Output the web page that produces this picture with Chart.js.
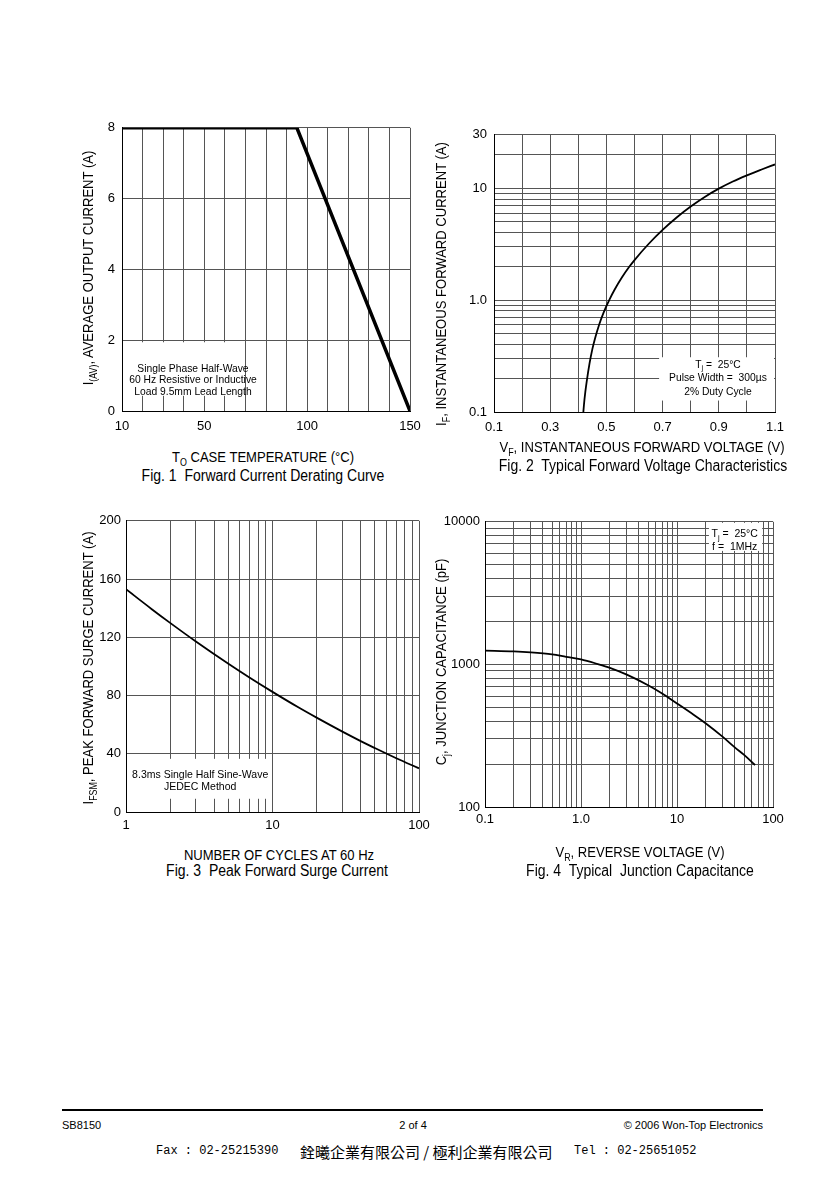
<!DOCTYPE html>
<html>
<head>
<meta charset="utf-8">
<script src="https://cdn.jsdelivr.net/npm/chart.js@4.4.1/dist/chart.umd.min.js"></script>
<style>
html,body{margin:0;padding:0;background:#fff;}
body{width:840px;height:1189px;position:relative;overflow:hidden;font-family:'Liberation Sans',Arial,sans-serif;color:#000;}
canvas{position:absolute;}
.t{position:absolute;white-space:nowrap;transform:translate(-50%,-50%) scaleX(0.87);font-size:15px;line-height:1;}
.ty{position:absolute;white-space:nowrap;transform:translate(-50%,-50%) rotate(-90deg) scaleX(0.87);font-size:15px;line-height:1;}
.cap{position:absolute;white-space:nowrap;transform:translate(-50%,-50%) scaleX(0.875);font-size:16px;line-height:1;}
.s{font-size:0.68em;position:relative;top:0.38em;}
.ft{position:absolute;font-size:11px;line-height:1;white-space:nowrap;transform:translateY(-50%);}
.fx{position:absolute;line-height:1;white-space:pre;transform:translateY(-50%);}
.mono{font-family:'Liberation Mono','DejaVu Sans Mono',monospace;font-size:12px;}
.cjk{font-family:'Noto Sans CJK TC','Noto Sans CJK SC',sans-serif;font-size:15px;}
</style>
</head>
<body>
<canvas id="c1"></canvas>
<canvas id="c2"></canvas>
<canvas id="c3"></canvas>
<canvas id="c4"></canvas>

<!-- axis titles and captions -->
<div class="ty" style="left:88px;top:268px;">I<span class="s">(AV)</span>, AVERAGE OUTPUT CURRENT (A)</div>
<div class="t" style="left:263px;top:457px;">T<span class="s">O</span> CASE TEMPERATURE (°C)</div>
<div class="cap" style="left:263px;top:476px;">Fig. 1&nbsp; Forward Current Derating Curve</div>

<div class="ty" style="left:441px;top:284px;">I<span class="s">F</span>, INSTANTANEOUS FORWARD CURRENT (A)</div>
<div class="t" style="left:642px;top:447px;">V<span class="s">F</span>, INSTANTANEOUS FORWARD VOLTAGE (V)</div>
<div class="cap" style="left:643px;top:466px;">Fig. 2&nbsp; Typical Forward Voltage Characteristics</div>

<div class="ty" style="left:88px;top:668px;">I<span class="s">FSM</span>, PEAK FORWARD SURGE CURRENT (A)</div>
<div class="t" style="left:279px;top:854px;">NUMBER OF CYCLES AT 60 Hz</div>
<div class="cap" style="left:277px;top:871px;">Fig. 3&nbsp; Peak Forward Surge Current</div>

<div class="ty" style="left:441px;top:662px;">C<span class="s">j</span>, JUNCTION CAPACITANCE (pF)</div>
<div class="t" style="left:640px;top:852px;">V<span class="s">R</span>, REVERSE VOLTAGE (V)</div>
<div class="cap" style="left:640px;top:871px;">Fig. 4&nbsp; Typical&nbsp; Junction Capacitance</div>

<!-- footer -->
<div style="position:absolute;left:62px;top:1109px;width:701px;height:2px;background:#000;"></div>
<div class="ft" style="left:62px;top:1125px;">SB8150</div>
<div class="ft" style="left:413px;top:1125px;transform:translate(-50%,-50%);">2 of 4</div>
<div class="ft" style="right:77px;top:1125px;">© 2006 Won-Top Electronics</div>
<div class="fx mono" style="left:156px;top:1151px;">Fax : 02-25215390</div>
<div class="fx cjk" style="left:300px;top:1151px;">銓曦企業有限公司 / 極利企業有限公司</div>
<div class="fx mono" style="left:574px;top:1151px;">Tel : 02-25651052</div>

<script>
// ================= DATA =================
// Fig. 1  Forward Current Derating Curve
const fig1Temp    = [10, 95, 150];
const fig1Current = [8, 8, 0];
const fig1XTicks  = [10, 20, 30, 40, 50, 60, 70, 80, 90, 100, 110, 120, 130, 140, 150];
const fig1XLabelValues = [10, 50, 100, 150];
const fig1XLabelText   = ['10', '50', '100', '150'];
const fig1YTicks  = [0, 2, 4, 6, 8];
const fig1YLabelValues = [0, 2, 4, 6, 8];
const fig1YLabelText   = ['0', '2', '4', '6', '8'];
const fig1Note = ['Single Phase Half-Wave', '60 Hz Resistive or Inductive', 'Load 9.5mm Lead Length'];

// Fig. 2  Typical Forward Voltage Characteristics
const fig2Voltage = [0.418, 0.42, 0.425, 0.43, 0.44, 0.45, 0.46, 0.475, 0.49, 0.51, 0.53, 0.555, 0.58, 0.6, 0.65, 0.7, 0.75, 0.8, 0.85, 0.9, 0.95, 1.0, 1.05, 1.1];
const fig2Current = [0.1, 0.115, 0.151, 0.188, 0.272, 0.365, 0.459, 0.612, 0.774, 1.0, 1.249, 1.591, 1.963, 2.279, 3.171, 4.24, 5.474, 6.861, 8.36, 9.915, 11.48, 13.02, 14.61, 16.31];
const fig2XTicks  = [0.1, 0.2, 0.3, 0.4, 0.5, 0.6, 0.7, 0.8, 0.9, 1.0, 1.1];
const fig2XLabelValues = [0.1, 0.3, 0.5, 0.7, 0.9, 1.1];
const fig2XLabelText   = ['0.1', '0.3', '0.5', '0.7', '0.9', '1.1'];
const fig2YTicks  = [0.1, 0.2, 0.3, 0.4, 0.5, 0.6, 0.7, 0.8, 0.9, 1, 2, 3, 4, 5, 6, 7, 8, 9, 10, 20, 30];
const fig2YLabelValues = [0.1, 1, 10, 30];
const fig2YLabelText   = ['0.1', '1.0', '10', '30'];
const fig2Note = ['T_{j} =  25°C', 'Pulse Width =  300µs', '2% Duty Cycle'];

// Fig. 3  Peak Forward Surge Current
const fig3Cycles  = [1, 1.5, 2, 3, 5, 7, 10, 15, 20, 30, 40, 50, 70, 100];
const fig3Current = [153, 139.3, 129.9, 117.1, 101.8, 92.2, 82.5, 71.9, 64.8, 55.2, 48.7, 43.9, 36.9, 30];
const fig3XTicks  = [1, 2, 3, 4, 5, 6, 7, 8, 9, 10, 20, 30, 40, 50, 60, 70, 80, 90, 100];
const fig3XLabelValues = [1, 10, 100];
const fig3XLabelText   = ['1', '10', '100'];
const fig3YTicks  = [0, 40, 80, 120, 160, 200];
const fig3YLabelValues = [0, 40, 80, 120, 160, 200];
const fig3YLabelText   = ['0', '40', '80', '120', '160', '200'];
const fig3Note = ['8.3ms Single Half Sine-Wave', 'JEDEC Method'];

// Fig. 4  Typical Junction Capacitance
const fig4Voltage = [0.1, 0.2, 0.3, 0.5, 0.7, 1, 1.5, 2, 3, 5, 7, 10, 15, 20, 30, 40, 50, 65];
const fig4Cap     = [1250, 1235, 1215, 1175, 1130, 1085, 1005, 945, 847, 714, 625, 532, 442, 385, 310, 262, 232, 197];
const fig4XTicks  = [0.1, 0.2, 0.3, 0.4, 0.5, 0.6, 0.7, 0.8, 0.9, 1, 2, 3, 4, 5, 6, 7, 8, 9, 10, 20, 30, 40, 50, 60, 70, 80, 90, 100];
const fig4XLabelValues = [0.1, 1, 10, 100];
const fig4XLabelText   = ['0.1', '1.0', '10', '100'];
const fig4YTicks  = [100, 200, 300, 400, 500, 600, 700, 800, 900, 1000, 2000, 3000, 4000, 5000, 6000, 7000, 8000, 9000, 10000];
const fig4YLabelValues = [100, 1000, 10000];
const fig4YLabelText   = ['100', '1000', '10000'];
const fig4Note = ['T_{j} =  25°C', 'f =  1MHz'];

// ================= RENDERING =================
const FONT = "'Liberation Sans', Arial, sans-serif";
Chart.defaults.font.family = FONT;
Chart.defaults.font.size = 13;
Chart.defaults.color = '#000';

const GRID = '#555';

function labelFor(values, texts) {
  return function (v) {
    for (let i = 0; i < values.length; i++) {
      if (Math.abs(v - values[i]) <= Math.abs(values[i]) * 1e-6 + 1e-9) return texts[i];
    }
    return '';
  };
}

function parseLine(s) {
  const parts = [];
  const re = /_\{([^}]*)\}/g;
  let last = 0, m;
  while ((m = re.exec(s))) {
    if (m.index > last) parts.push({ t: s.slice(last, m.index), sub: false });
    parts.push({ t: m[1], sub: true });
    last = re.lastIndex;
  }
  if (last < s.length) parts.push({ t: s.slice(last), sub: false });
  return parts;
}

function notePlugin(n) {
  return {
    id: 'noteBox',
    beforeDatasetsDraw(chart) {
      const ctx = chart.ctx, xs = chart.scales.x, ys = chart.scales.y;
      const px0 = xs.getPixelForValue(n.box[0]), px1 = xs.getPixelForValue(n.box[1]);
      const py0 = ys.getPixelForValue(n.box[2]), py1 = ys.getPixelForValue(n.box[3]);
      const l = Math.min(px0, px1) + 1, r = Math.max(px0, px1) - 1;
      const t = Math.min(py0, py1) + 1, b = Math.max(py0, py1) - 1;
      ctx.save();
      ctx.fillStyle = '#fff';
      ctx.fillRect(l, t, r - l, b - t);
      ctx.fillStyle = '#000';
      ctx.textBaseline = 'middle';
      ctx.textAlign = 'left';
      const cx = xs.getPixelForValue(n.textX);
      let cy = ys.getPixelForValue(n.textY);
      const main = n.size + 'px ' + FONT, sub = (n.size * 0.7) + 'px ' + FONT;
      n.lines.forEach(line => {
        const parts = parseLine(line);
        let w = 0;
        parts.forEach(p => { ctx.font = p.sub ? sub : main; p.w = ctx.measureText(p.t).width; w += p.w; });
        let x = cx - w / 2;
        parts.forEach(p => {
          ctx.font = p.sub ? sub : main;
          ctx.fillText(p.t, x, cy + (p.sub ? n.size * 0.35 : 0));
          x += p.w;
        });
        cy += n.lineHeight;
      });
      ctx.restore();
    }
  };
}

function axis(type, min, max, ticks, lv, lt, isX, pad) {
  return {
    type: type, min: min, max: max,
    afterBuildTicks: s => { s.ticks = ticks.map(v => ({ value: v })); },
    afterFit: s => { if (isX) s.height = 30; else s.width = 50; },
    ticks: { autoSkip: false, maxRotation: 0, minRotation: 0, padding: pad, callback: labelFor(lv, lt), font: { size: 13 } },
    grid: { color: GRID, lineWidth: 1, drawTicks: false },
    border: { color: '#000', width: 1 }
  };
}

function makeChart(id, box, xs, ys, xVals, yVals, line, note) {
  const yW = 50, xH = 30, padT = 12, padR = 30;
  const left = box.L - yW, top = box.T - padT;
  const W = box.R - left + padR, H = box.B - top + xH;
  const c = document.getElementById(id);
  c.style.left = left + 'px'; c.style.top = top + 'px';
  c.width = W; c.height = H;
  c.style.width = W + 'px'; c.style.height = H + 'px';
  return new Chart(c, {
    type: 'line',
    data: {
      datasets: [{
        data: xVals.map((v, i) => ({ x: v, y: yVals[i] })),
        borderColor: '#000',
        borderWidth: line.width,
        pointRadius: 0,
        fill: false,
        tension: line.smooth ? 0.4 : 0,
        cubicInterpolationMode: line.smooth ? 'monotone' : 'default'
      }]
    },
    options: {
      responsive: false,
      animation: false,
      events: [],
      layout: { padding: { top: padT, right: padR, left: 0, bottom: 0 } },
      plugins: { legend: { display: false }, tooltip: { enabled: false }, title: { display: false } },
      scales: { x: xs, y: ys }
    },
    plugins: [notePlugin(note)]
  });
}

// Fig. 1
makeChart('c1', { L: 122, R: 410, T: 125, B: 411 },
  axis('linear', 10, 150, fig1XTicks, fig1XLabelValues, fig1XLabelText, true, 8),
  axis('linear', 0, 8, fig1YTicks, fig1YLabelValues, fig1YLabelText, false, 7),
  fig1Temp, fig1Current, { width: 3.5, smooth: false },
  { box: [10, 69.5, 0.4, 1.97], textX: 44.5, textY: 1.19, lineHeight: 11.7, size: 10.3, lines: fig1Note });

// Fig. 2
makeChart('c2', { L: 494, R: 775, T: 132, B: 412 },
  axis('linear', 0.1, 1.1, fig2XTicks, fig2XLabelValues, fig2XLabelText, true, 8),
  axis('logarithmic', 0.1, 30, fig2YTicks, fig2YLabelValues, fig2YLabelText, false, 7),
  fig2Voltage, fig2Current, { width: 1.8, smooth: true },
  { box: [0.684, 1.1, 0.124, 0.315], textX: 0.897, textY: 0.264, lineHeight: 13.5, size: 10.3, lines: fig2Note });

// Fig. 3
makeChart('c3', { L: 126, R: 419, T: 520, B: 812 },
  axis('logarithmic', 1, 100, fig3XTicks, fig3XLabelValues, fig3XLabelText, true, 6),
  axis('linear', 0, 200, fig3YTicks, fig3YLabelValues, fig3YLabelText, false, 5),
  fig3Cycles, fig3Current, { width: 1.8, smooth: true },
  { box: [1, 9.6, 8.4, 37.2], textX: 3.21, textY: 25.2, lineHeight: 12, size: 10.5, lines: fig3Note });

// Fig. 4
makeChart('c4', { L: 485, R: 773, T: 521, B: 807 },
  axis('logarithmic', 0.1, 100, fig4XTicks, fig4XLabelValues, fig4XLabelText, true, 5),
  axis('logarithmic', 100, 10000, fig4YTicks, fig4YLabelValues, fig4YLabelText, false, 5),
  fig4Voltage, fig4Cap, { width: 1.8, smooth: true },
  { box: [21, 79, 6150, 10000], textX: 39.9, textY: 8204, lineHeight: 13, size: 10.5, lines: fig4Note });
</script>
</body>
</html>
